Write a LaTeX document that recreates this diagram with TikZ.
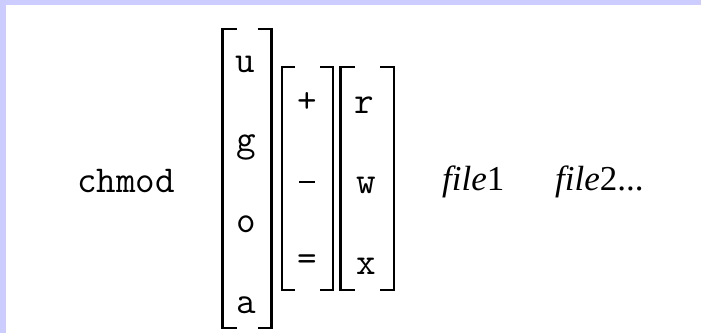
\documentclass[tikz,border=0pt]{standalone}
\usepackage{fontspec}
\setmainfont{Liberation Serif}
\definecolor{bordercol}{HTML}{CCCCFF}
\begin{document}
\begin{tikzpicture}[x=1pt,y=-1pt,
  tt/.style={font=\fontsize{38}{38}\selectfont\ttfamily, inner sep=0pt, anchor=base},
  sym/.style={font=\fontsize{38}{38}\selectfont\ttfamily, inner sep=0pt, anchor=center},
  rm/.style={font=\fontsize{35}{35}\selectfont\rmfamily, inner sep=0pt, anchor=base west},
  brk/.style={line width=2.2pt, line cap=butt, line join=miter}]
\fill[bordercol] (0,0) rectangle (701,333);
\fill[white] (6,5) rectangle (701,333);
\useasboundingbox (0,0) rectangle (701,333);

\node[tt, anchor=base west] (cmd) at (77,192) {chmod};

% matrix 1
\node[tt] (u) at (245,72) {u};
\node[tt] (g) at (246,151) {g};
\node[tt] (o) at (246,232) {o};
\node[tt] (a) at (246,313) {a};
\draw[brk] (236.5,29) -- (222.5,29) -- (222.5,328) -- (236.5,328);
\draw[brk] (257.5,29) -- (271.5,29) -- (271.5,328) -- (257.5,328);

% matrix 2
\node[sym] (plus) at (307,103) {+};
\node[sym] (minus) at (307,182) {\rule{16pt}{2.4pt}};
\node[sym] (eq) at (307,263) {=};
\draw[brk] (295,67) -- (281.7,67) -- (281.7,290) -- (295,290);
\draw[brk] (320,67) -- (333.3,67) -- (333.3,290) -- (320,290);

% matrix 3
\node[tt] (r) at (364,113) {r};
\node[tt] (w) at (366,193) {w};
\node[tt] (x) at (366,274) {x};
\draw[brk] (354.5,67) -- (340.5,67) -- (340.5,290) -- (354.5,290);
\draw[brk] (380,67) -- (394,67) -- (394,290) -- (380,290);

\node[rm] (f1) at (442,190) {\textit{file}1};
\node[rm] (f2) at (555,190) {\textit{file}2...};
\end{tikzpicture}
\end{document}
